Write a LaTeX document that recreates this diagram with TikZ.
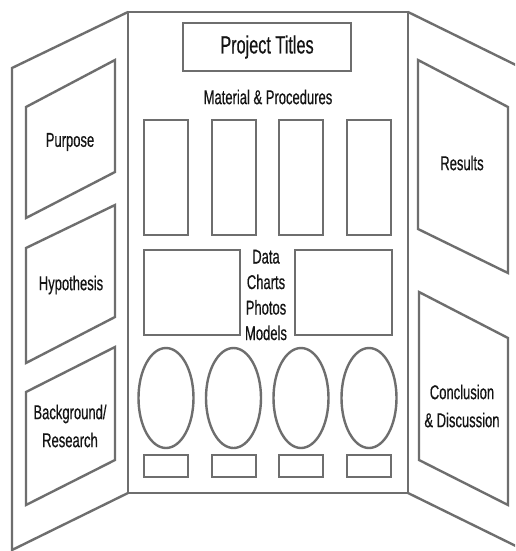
\documentclass[tikz,border=0pt]{standalone}
\usepackage{fontspec}
\setmainfont[FakeStretch=0.65,FakeBold=0.5]{Liberation Sans}
\definecolor{edge}{RGB}{110,110,110}
\definecolor{ink}{RGB}{20,20,20}
\tikzset{
  board/.style={draw=edge, line width=2.4pt, line join=miter, fill=white},
  panelbox/.style={draw=edge, line width=2.4pt, line join=miter},
  lbl/.style={text=ink, font=\fontsize{20}{28}\selectfont, align=center, inner sep=0pt},
  datalbl/.style={text=ink, font=\fontsize{20}{25.5}\selectfont, align=center, inner sep=0pt},
  titlelbl/.style={text=ink, font=\fontsize{25}{28}\selectfont, inner sep=0pt}
}
\begin{document}
\begin{tikzpicture}[x=1pt,y=-1pt]
\useasboundingbox (0,0) rectangle (515,551);
\clip (0,0) rectangle (515,551);
% left wing
\draw[board] (128,12) -- (12,68) -- (12,550) -- (128,493);
% right wing
\draw[board] (408,12) -- (524,69) -- (524,550) -- (408,493);
% centre panel
\draw[board] (128,12) rectangle (408,493);
% left wing boxes
\draw[panelbox] (26,107) -- (115,60) -- (115,172) -- (26,218) -- cycle;
\draw[panelbox] (26,248) -- (115,205) -- (115,317) -- (26,363) -- cycle;
\draw[panelbox] (26,392) -- (115,347) -- (115,460) -- (26,505) -- cycle;
% right wing boxes
\draw[panelbox] (418,60) -- (508,107) -- (508,273) -- (418,229) -- cycle;
\draw[panelbox] (419,292) -- (508,338) -- (508,505) -- (419,460) -- cycle;
% title box
\draw[panelbox] (183,23) rectangle (351,71);
% tall and small rectangles
\foreach \x in {144,212,279,347}{
  \draw[panelbox] (\x,120) rectangle ++(44,115);
  \draw[panelbox] (\x,455) rectangle ++(44,22);
}
% wide rectangles
\draw[panelbox] (144,250) rectangle (240,335);
\draw[panelbox] (295,250) rectangle (392,335);
% ellipses
\foreach \x in {166,233.5,301,369}{
  \draw[panelbox] (\x,398) ellipse [x radius=27.5, y radius=50];
}
% labels
\node[titlelbl] (title) at (267,47) {Project Titles};
\node[lbl] (mat) at (268,97) {Material \& Procedures};
\node[datalbl] (data) at (266,295) {Data\\Charts\\Photos\\Models};
\node[lbl] (purpose) at (70,142) {Purpose};
\node[lbl] (hyp) at (71,285) {Hypothesis};
\node[lbl] (back) at (70,426) {Background/\\Research};
\node[lbl] (res) at (462,163) {Results};
\node[lbl] (conc) at (462,406) {Conclusion\\\& Discussion};
\end{tikzpicture}
\end{document}
